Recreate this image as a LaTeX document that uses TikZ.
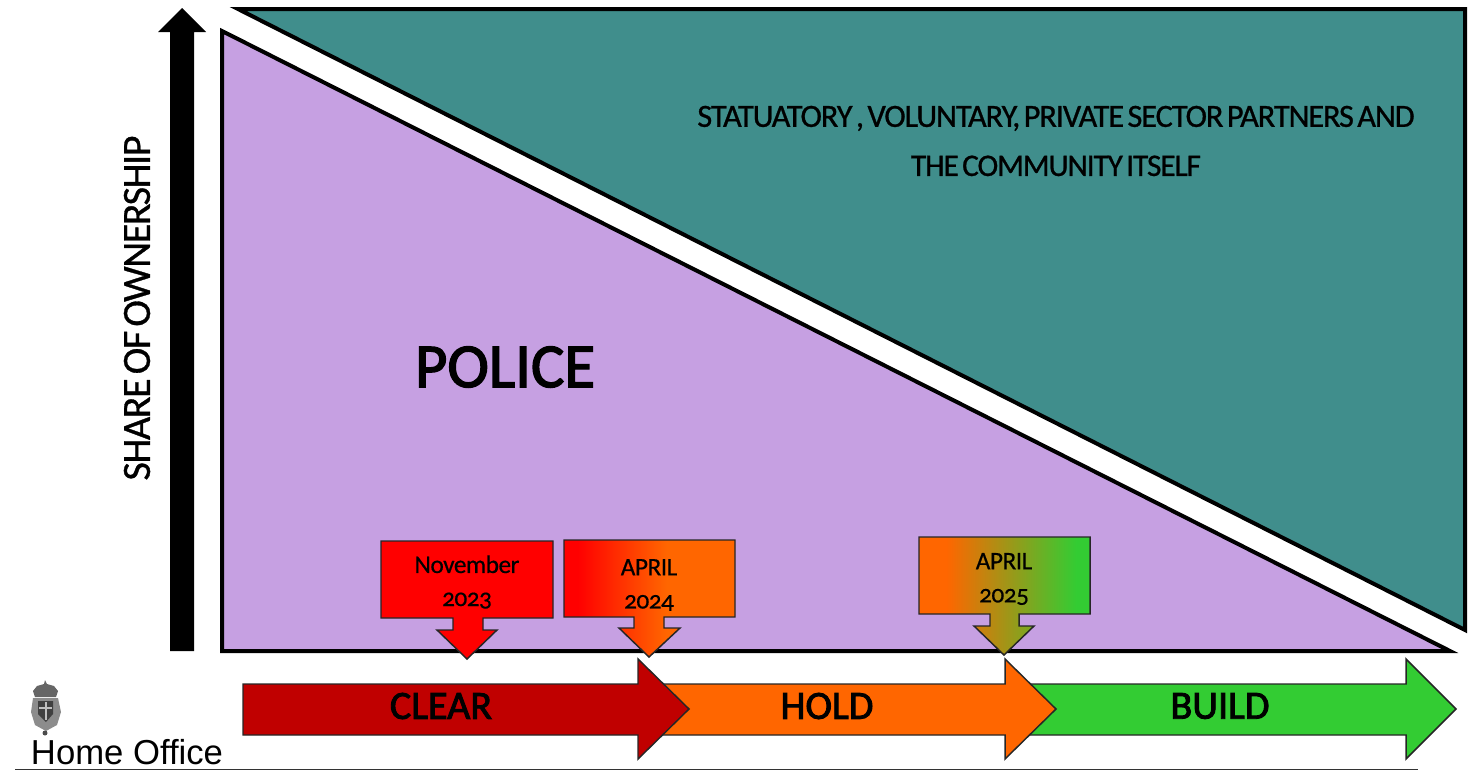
\documentclass[tikz,border=0pt]{standalone}
\usepackage{fontspec}
\setmainfont{Carlito}
\newfontfamily\tightfont[LetterSpace=-3.5,WordSpace=0.55,FakeBold=0.8]{Carlito}
\newfontfamily\heavyfont[FakeBold=2.2]{Carlito}
\newfontfamily\oldnumfont[Numbers=OldStyle,LetterSpace=-2,FakeBold=0.5]{Carlito}
\newfontfamily\officefont{Liberation Sans}
\usepackage{tikz}
\definecolor{policefill}{RGB}{198,160,226}
\definecolor{partnerfill}{RGB}{64,142,140}
\definecolor{clearfill}{RGB}{192,0,0}
\definecolor{holdfill}{RGB}{255,102,0}
\definecolor{buildfill}{RGB}{51,204,51}
\pgfdeclarehorizontalshading{redorange}{100bp}{rgb(0bp)=(1,0,0); rgb(29bp)=(1,0,0); rgb(55bp)=(1,0.4,0); rgb(100bp)=(1,0.4,0)}
\pgfdeclarehorizontalshading{orangegreen}{100bp}{rgb(0bp)=(1,0.4,0); rgb(33bp)=(1,0.4,0); rgb(71bp)=(0.2,0.8,0.2); rgb(100bp)=(0.2,0.8,0.2)}
\tikzset{
  wedge/.style={draw=black,line width=3pt,line join=miter},
  phase/.style={draw=black!85,line width=1.1pt,line join=miter},
  datebox/.style={draw=black!85,line width=1.1pt,line join=miter},
  phaselabel/.style={inner sep=0.75pt,font=\fontsize{30}{36}\heavyfont},
  datelabel/.style={inner sep=0.75pt,align=center,font=\fontsize{19}{24.8}\oldnumfont},
}
\begin{document}
\begin{tikzpicture}[x=0.75pt,y=0.75pt,yscale=-1,xscale=1]
\useasboundingbox (0,0) rectangle (1476,771);

%Ownership wedges
\draw [wedge,fill=partnerfill] (238,9) -- (1465,9) -- (1465,630) -- cycle ;
\draw [wedge,fill=policefill] (222,31) -- (222,651) -- (1450,651) -- cycle ;

%Up arrow
\fill [black] (170,651) -- (170,32) -- (158,32) -- (182,8) -- (206,32) -- (194,32) -- (194,651) -- cycle ;

%Phase arrows
\draw [phase,fill=buildfill] (1030,684) -- (1406,684) -- (1406,659) -- (1456,709) -- (1406,759) -- (1406,735) -- (1030,735) -- cycle ;
\draw [phase,fill=holdfill] (660,684) -- (1005,684) -- (1005,659) -- (1056,709) -- (1005,759) -- (1005,735) -- (660,735) -- cycle ;
\draw [phase,fill=clearfill] (243,684) -- (638,684) -- (638,659) -- (689,709) -- (638,759) -- (638,735) -- (243,735) -- cycle ;

%Date callouts
\draw [datebox,fill=red] (381,541) -- (553,541) -- (553,618) -- (483,618) -- (483,630) -- (497,630) -- (467,659) -- (437,630) -- (453,630) -- (453,618) -- (381,618) -- cycle ;
\shadedraw [datebox,shading=redorange] (564,540) -- (735,540) -- (735,617) -- (664,617) -- (664,628) -- (680,628) -- (649,657) -- (619,628) -- (634,628) -- (634,617) -- (564,617) -- cycle ;
\shadedraw [datebox,shading=orangegreen] (919,537) -- (1090,537) -- (1090,614) -- (1019,614) -- (1019,626) -- (1034,626) -- (1004,655) -- (974,626) -- (990,626) -- (990,614) -- (919,614) -- cycle ;

%Crest
\fill [black!60] (33,691) -- (37,686) -- (44,684) -- (45,680) -- (47,684) -- (54,686) -- (58,691) -- (56,697) -- (35,697) -- cycle ;
\fill [black!45] (33,698) -- (58,698) -- (61,712) -- (57,725) -- (46,731) -- (35,725) -- (31,712) -- cycle ;
\fill [black!75] (38,701) -- (53,701) -- (53,714) -- (46,722) -- (38,714) -- cycle ;
\draw [black!25,line width=0.8pt] (46,702) -- (46,720) (39,708) -- (52,708) ;
\fill [black!70] (45,733) circle (2.5) ;

%Bottom rule
\draw [black!80,line width=1.1pt] (15,769.5) -- (1418,769.5) ;

% Text Node
\node (partners) at (1056,141) [inner sep=0.75pt,align=center,font=\fontsize{23.5}{36.8}\tightfont] {{\fontsize{24.3}{36.8}\selectfont STATUATORY , VOLUNTARY, PRIVATE SECTOR PARTNERS AND}\\THE COMMUNITY ITSELF};
% Text Node
\node (police) at (505,367) [inner sep=0.75pt,font=\fontsize{47}{56}\heavyfont] {POLICE};
% Text Node
\node (share) at (137,308) [inner sep=0.75pt,rotate=90,font=\fontsize{30}{36}\tightfont] {SHARE OF OWNERSHIP};
% Text Node
\node (nov) at (467,582) [datelabel] {November\\2023};
% Text Node
\node (apr24) at (649,585) [datelabel] {APRIL\\2024};
% Text Node
\node (apr25) at (1004,579) [datelabel] {APRIL\\2025};
% Text Node
\node (clear) at (441,706) [phaselabel] {CLEAR};
% Text Node
\node (hold) at (827,706) [phaselabel] {HOLD};
% Text Node
\node (build) at (1220,706) [phaselabel] {BUILD};
% Text Node
\node (office) at (127,752) [inner sep=0.75pt,font=\fontsize{26}{30}\officefont] {Home Office};

\end{tikzpicture}
\end{document}
